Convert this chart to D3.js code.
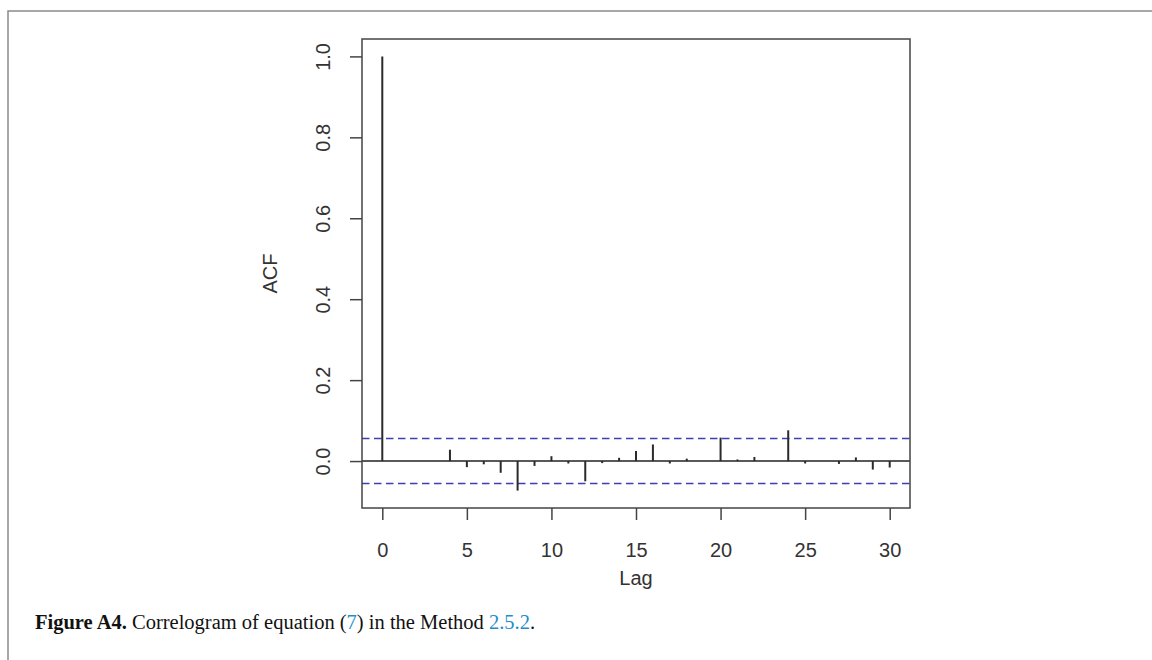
<!DOCTYPE html>
<html>
<head>
<meta charset="utf-8">
<script src="https://cdn.jsdelivr.net/npm/d3@7"></script>
<style>
  body { margin: 0; background: #fff; }
  svg { display: block; }
  .axis text { font-family: "Liberation Sans", Arial, sans-serif; font-size: 20px; fill: #333; }
  .axis line { stroke: #444; stroke-width: 1.5; }
</style>
</head>
<body>
<svg width="1152" height="660"></svg>
<script>
// acf values, lag 0..30
var lags = d3.range(0, 31);
var acfValues = [1, 0, 0, 0, 0.028, -0.015, -0.008, -0.029, -0.073, -0.012,
  0.012, -0.006, -0.05, -0.005, 0.008, 0.025, 0.041, -0.006, 0.006, 0,
  0.058, 0.004, 0.01, 0, 0.076, -0.006, 0, -0.007, 0.009, -0.021, -0.016];
var confLimits = [0.0555, -0.0555];
var xTicks = [0, 5, 10, 15, 20, 25, 30];
var yTicks = [0, 0.2, 0.4, 0.6, 0.8, 1.0];

var svg = d3.select("svg");

var box = {left: 362, right: 910, top: 39, bottom: 508};

// page frame (top + left edge only, like the cropped figure)
svg.append("path")
  .attr("d", "M8,660 L8,11 L1152,11")
  .attr("fill", "none")
  .attr("stroke", "#8a8a8a")
  .attr("stroke-width", 1.5);

// R-style 4% padding on both axes
var xScale = d3.scaleLinear().domain([-1.2, 31.2]).range([box.left, box.right]);
var yScale = d3.scaleLinear().domain([-0.116, 1.043]).range([box.bottom, box.top]);

var xAxis = svg.append("g")
  .attr("class", "axis")
  .attr("transform", "translate(0," + box.bottom + ")")
  .call(d3.axisBottom(xScale).tickValues(xTicks).tickSize(12).tickFormat(d3.format("d")));
xAxis.select(".domain").remove();
xAxis.selectAll("text").attr("y", 49).attr("dy", 0);

var yAxis = svg.append("g")
  .attr("class", "axis")
  .attr("transform", "translate(" + box.left + ",0)")
  .call(d3.axisLeft(yScale).tickValues(yTicks).tickSize(12).tickFormat(d3.format(".1f")));
yAxis.select(".domain").remove();
yAxis.selectAll("text")
  .attr("transform", "rotate(-90)")
  .attr("x", 0)
  .attr("y", -32)
  .attr("dy", 0)
  .attr("text-anchor", "middle");

// zero line
svg.append("line")
  .attr("x1", box.left).attr("x2", box.right)
  .attr("y1", yScale(0)).attr("y2", yScale(0))
  .attr("stroke", "#222").attr("stroke-width", 1.5);

// confidence bands
svg.selectAll(".clim").data(confLimits).enter()
  .append("line")
  .attr("class", "clim")
  .attr("x1", box.left).attr("x2", box.right)
  .attr("y1", function(d) { return yScale(d); })
  .attr("y2", function(d) { return yScale(d); })
  .attr("stroke", "#3f3fb4")
  .attr("stroke-width", 1.5)
  .attr("stroke-dasharray", "7.5,4.5");

// acf spikes
svg.selectAll(".spike").data(acfValues).enter()
  .append("line")
  .attr("class", "spike")
  .attr("x1", function(d, i) { return xScale(lags[i]); })
  .attr("x2", function(d, i) { return xScale(lags[i]); })
  .attr("y1", yScale(0))
  .attr("y2", function(d) { return yScale(d); })
  .attr("stroke", "#2a2a2a")
  .attr("stroke-width", 2);

// plot box
svg.append("rect")
  .attr("x", box.left).attr("y", box.top)
  .attr("width", box.right - box.left).attr("height", box.bottom - box.top)
  .attr("fill", "none").attr("stroke", "#444").attr("stroke-width", 1.5);

// axis titles
svg.append("text")
  .attr("transform", "translate(277," + ((box.top + box.bottom) / 2) + ") rotate(-90)")
  .attr("text-anchor", "middle")
  .style("font-family", "Liberation Sans, Arial, sans-serif")
  .style("font-size", "20px").style("fill", "#333")
  .text("ACF");

svg.append("text")
  .attr("x", (box.left + box.right) / 2)
  .attr("y", 585)
  .attr("text-anchor", "middle")
  .style("font-family", "Liberation Sans, Arial, sans-serif")
  .style("font-size", "20px").style("fill", "#333")
  .text("Lag");

// caption
var cap = svg.append("text")
  .attr("x", 35).attr("y", 629)
  .style("font-family", "Liberation Serif, serif")
  .style("font-size", "20.5px")
  .style("fill", "#111");
cap.append("tspan").style("font-weight", "bold").text("Figure A4.");
cap.append("tspan").text(" Correlogram of equation (");
cap.append("tspan").style("fill", "#1f8dc8").text("7");
cap.append("tspan").text(") in the Method ");
cap.append("tspan").style("fill", "#1f8dc8").text("2.5.2");
cap.append("tspan").text(".");
</script>
</body>
</html>
